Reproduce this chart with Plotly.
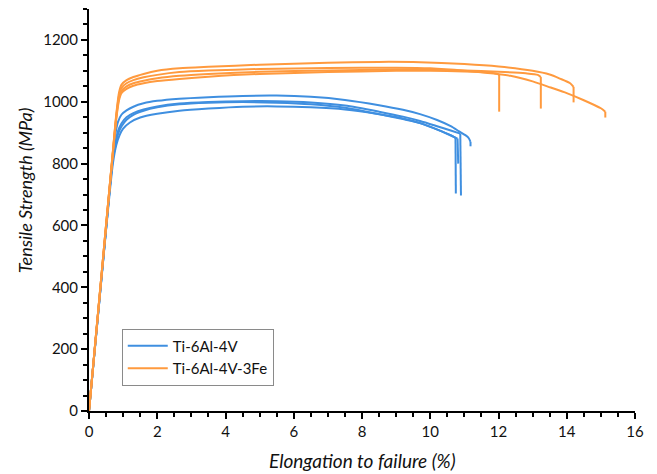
import plotly.graph_objects as go

# ---- data ----
# Ti-6Al-4V (blue), four specimens: elongation (%) and tensile stress (MPa)
ti64_1_x = [0, 0.5, 0.7, 0.78, 0.85, 0.95, 1.1, 1.3, 1.6, 2.0, 2.65, 3.5, 4.5, 5.5, 6.5, 7.5, 8.5, 9.2, 9.7, 10.2, 10.6, 10.85, 11.03, 11.13, 11.18, 11.18]
ti64_1_y = [0, 590, 830, 900, 935, 958, 972, 984, 995, 1003, 1010, 1015, 1019, 1020, 1016, 1006, 989, 974, 960, 941, 921, 904, 892, 882, 870, 856]

ti64_2_x = [0, 0.5, 0.7, 0.78, 0.85, 0.95, 1.1, 1.3, 1.6, 2.0, 2.65, 3.5, 4.5, 5.5, 6.5, 7.5, 8.5, 9.2, 9.7, 10.2, 10.6, 10.88, 10.9]
ti64_2_y = [0, 590, 820, 870, 905, 930, 950, 963, 975, 985, 994, 999, 1002, 1002, 998, 988, 968, 952, 938, 921, 907, 897, 697]

ti64_3_x = [0, 0.5, 0.7, 0.78, 0.85, 0.95, 1.1, 1.3, 1.6, 2.0, 2.65, 3.5, 4.5, 5.5, 6.5, 7.5, 8.5, 9.2, 9.7, 10.3, 10.6, 10.74, 10.75]
ti64_3_y = [0, 590, 815, 860, 895, 920, 942, 958, 971, 982, 992, 997, 999, 997, 992, 981, 960, 944, 931, 906, 892, 883, 703]

ti64_4_x = [0, 0.5, 0.7, 0.8, 0.9, 1.0, 1.2, 1.5, 2.0, 2.65, 3.5, 4.5, 5.5, 6.5, 7.5, 8.5, 9.2, 9.7, 10.3, 10.6, 10.8, 10.82]
ti64_4_y = [0, 585, 800, 860, 893, 913, 933, 949, 961, 971, 978, 984, 985, 982, 975, 960, 946, 931, 906, 891, 881, 800]

# Ti-6Al-4V-3Fe (orange), four specimens
ti643fe_1_x = [0, 0.5, 0.7, 0.8, 0.88, 0.95, 1.1, 1.3, 1.6, 2.0, 2.65, 3.5, 5.0, 7.0, 8.5, 9.7, 11.0, 12.0, 13.0, 13.5, 13.8, 14.1, 14.2, 14.2]
ti643fe_1_y = [0, 600, 840, 960, 1030, 1055, 1070, 1080, 1090, 1100, 1108, 1113, 1120, 1126, 1129, 1128, 1122, 1114, 1100, 1088, 1075, 1060, 1048, 998]

ti643fe_2_x = [0, 0.5, 0.7, 0.8, 0.88, 0.95, 1.1, 1.3, 1.6, 2.0, 2.65, 3.5, 5.0, 7.0, 9.0, 10.0, 11.0, 12.35, 13.0, 13.53, 14.0, 14.5, 15.0, 15.13, 15.13]
ti643fe_2_y = [0, 600, 840, 955, 1020, 1045, 1060, 1070, 1079, 1087, 1096, 1101, 1106, 1109, 1110, 1108, 1100, 1084, 1066, 1046, 1028, 1005, 979, 968, 949]

ti643fe_3_x = [0, 0.5, 0.7, 0.8, 0.88, 0.95, 1.1, 1.3, 1.6, 2.0, 2.65, 3.5, 5.0, 7.0, 9.0, 10.0, 11.0, 12.0, 12.8, 13.15, 13.24, 13.24]
ti643fe_3_y = [0, 600, 835, 950, 1012, 1035, 1050, 1060, 1068, 1076, 1084, 1090, 1097, 1101, 1104, 1104, 1101, 1097, 1092, 1087, 1080, 978]

ti643fe_4_x = [0, 0.5, 0.7, 0.8, 0.88, 0.95, 1.1, 1.3, 1.6, 2.0, 2.65, 3.5, 5.0, 7.0, 9.0, 10.0, 11.0, 11.7, 11.95, 12.02, 12.02]
ti643fe_4_y = [0, 600, 835, 945, 1005, 1028, 1042, 1052, 1060, 1067, 1074, 1081, 1090, 1096, 1100, 1100, 1098, 1095, 1091, 1087, 968]

series_names = ["Ti-6Al-4V", "Ti-6Al-4V-3Fe"]
x_title = "Elongation to failure (%)"
y_title = "Tensile Strength (MPa)"
x_tick_vals = [0, 2, 4, 6, 8, 10, 12, 14, 16]
y_tick_vals = [0, 200, 400, 600, 800, 1000, 1200]

BLUE = "#3f8fe0"
ORANGE = "#ff9a3e"

fig = go.Figure()

blue_curves = [(ti64_1_x, ti64_1_y), (ti64_2_x, ti64_2_y), (ti64_3_x, ti64_3_y), (ti64_4_x, ti64_4_y)]
orange_curves = [(ti643fe_1_x, ti643fe_1_y), (ti643fe_2_x, ti643fe_2_y), (ti643fe_3_x, ti643fe_3_y), (ti643fe_4_x, ti643fe_4_y)]


def add_curve(xs, ys, color, name, group, show):
    # smooth hardening curve, then the straight fracture drop
    fig.add_trace(go.Scatter(x=xs[:-1], y=ys[:-1], mode="lines", name=name,
                             legendgroup=group, showlegend=show,
                             line=dict(color=color, width=2, shape="spline", smoothing=0.7)))
    fig.add_trace(go.Scatter(x=xs[-2:], y=ys[-2:], mode="lines", name=name,
                             legendgroup=group, showlegend=False,
                             line=dict(color=color, width=2)))


for i, (xs, ys) in enumerate(blue_curves):
    add_curve(xs, ys, BLUE, series_names[0], "a", i == 0)
for i, (xs, ys) in enumerate(orange_curves):
    add_curve(xs, ys, ORANGE, series_names[1], "b", i == 0)

FONT = "Lato"
fig.update_layout(
    width=657, height=474,
    margin=dict(l=89, r=22, t=9, b=63),
    paper_bgcolor="white", plot_bgcolor="white",
    font=dict(family=FONT, size=15, color="#111111"),
    showlegend=True,
    legend=dict(x=0.06, y=0.205, xanchor="left", yanchor="top",
                bgcolor="white", bordercolor="#8a8a8a", borderwidth=1,
                font=dict(family=FONT, size=15, color="#111111"),
                tracegroupgap=0, itemwidth=40),
    xaxis=dict(range=[0, 16], tickvals=x_tick_vals, showgrid=False, zeroline=False,
               automargin=False,
               showline=True, linecolor="black", linewidth=2,
               ticks="outside", ticklen=6, tickwidth=1.5, tickcolor="black",
               minor=dict(dtick=0.5, ticks="outside", ticklen=4, tickwidth=1.5, tickcolor="black", showgrid=False),
               tickfont=dict(family=FONT, size=15)),
    yaxis=dict(range=[0, 1300], tickvals=y_tick_vals, showgrid=False, zeroline=False,
               automargin=False,
               showline=True, linecolor="black", linewidth=2,
               ticks="outside", ticklen=6, tickwidth=1.5, tickcolor="black",
               minor=dict(dtick=50, ticks="outside", ticklen=4, tickwidth=1.5, tickcolor="black", showgrid=False),
               tickfont=dict(family=FONT, size=15)),
    annotations=[
        dict(text="<i>" + x_title + "</i>", xref="paper", yref="paper", x=0.5, y=-0.123,
             xanchor="center", yanchor="middle", showarrow=False,
             font=dict(family=FONT, size=19, color="#111111")),
        dict(text="<i>" + y_title + "</i>", xref="paper", yref="paper", x=-0.118, y=0.548,
             xanchor="center", yanchor="middle", showarrow=False, textangle=-90,
             font=dict(family=FONT, size=18, color="#111111")),
    ],
)

fig.write_html("out.html", config={"displayModeBar": False},
               post_script="document.body.style.margin='0';document.body.style.padding='0';")
